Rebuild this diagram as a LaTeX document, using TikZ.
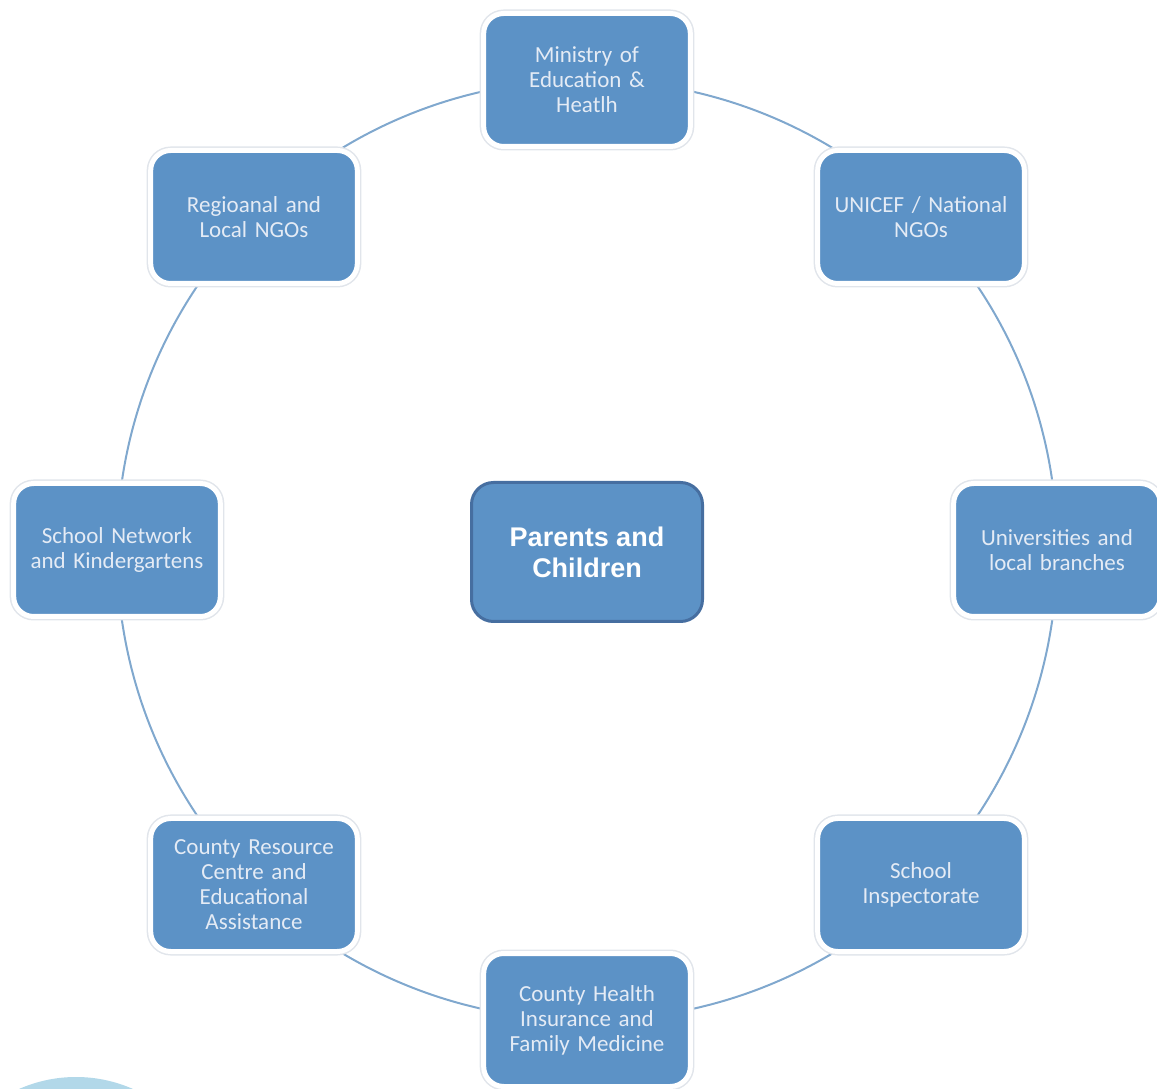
\documentclass[tikz,border=0pt]{standalone}
\usepackage{fontspec}
\setmainfont{Carlito}
\newfontfamily\arialfont{Liberation Sans}
\usepackage{tikz}
\usepackage{xcolor}
\usetikzlibrary{backgrounds}

\begin{document}
\begin{tikzpicture}[x=1pt, y=1pt,
		partner/.style={preaction={draw=RING_GRAY, line width=8pt}, rectangle, rounded corners=20pt,
			fill=NODE_BLUE, draw=white, line width=5pt, minimum width=205pt, minimum height=133pt,
			text width=200pt, align=center, text=TEXT_WHITE, font=\fontsize{23}{25}\selectfont},
		family/.style={rectangle, rounded corners=22pt, fill=NODE_BLUE, draw=CENTER_EDGE, line width=3pt,
			minimum width=231pt, minimum height=139pt, align=center, text=white,
			font=\arialfont\bfseries\fontsize{27}{31}\selectfont},
		ring/.style={draw=LINK_BLUE, line width=2pt}]
				\definecolor{NODE_BLUE}{RGB}{92, 146, 198}
				\definecolor{CENTER_EDGE}{RGB}{70, 110, 160}
				\definecolor{LINK_BLUE}{RGB}{128, 168, 206}
				\definecolor{RING_GRAY}{RGB}{225, 229, 235}
				\definecolor{TEXT_WHITE}{RGB}{228, 235, 245}
				\definecolor{BLOB_BLUE}{RGB}{178, 216, 233}
				\useasboundingbox (0, 0) rectangle (1157, 1088);

				\begin{scope}
					\clip (0, 0) rectangle (1157, 1088);
					\fill[BLOB_BLUE] (76, -130) circle (141);
				\end{scope}

				\node[family] (kids) at (587, 536) {Parents and\\Children};

				\node[partner] (p1) at (587, 1008) {Ministry of\\Education \&\\Heatlh};
				\node[partner] (p2) at (921, 871) {UNICEF / National\\NGOs};
				\node[partner] (p3) at (1057, 538) {Universities and\\local branches};
				\node[partner] (p4) at (921, 203) {School\\Inspectorate};
				\node[partner] (p5) at (587, 68) {County Health\\Insurance and\\Family Medicine};
				\node[partner] (p6) at (254, 203) {County Resource\\Centre and\\Educational\\Assistance};
				\node[partner] (p7) at (117, 538) {School Network\\and Kindergartens};
				\node[partner] (p8) at (254, 871) {Regioanal and\\Local NGOs};

				\begin{pgfonlayer}{background}
					\foreach \i [evaluate=\i as \j using {int(mod(\i,8)+1)}] in {1,...,8}
						\draw[ring] (p\i.center) to[bend left=22.5, looseness=0.886] (p\j.center);
				\end{pgfonlayer}
			\end{tikzpicture}
\end{document}
